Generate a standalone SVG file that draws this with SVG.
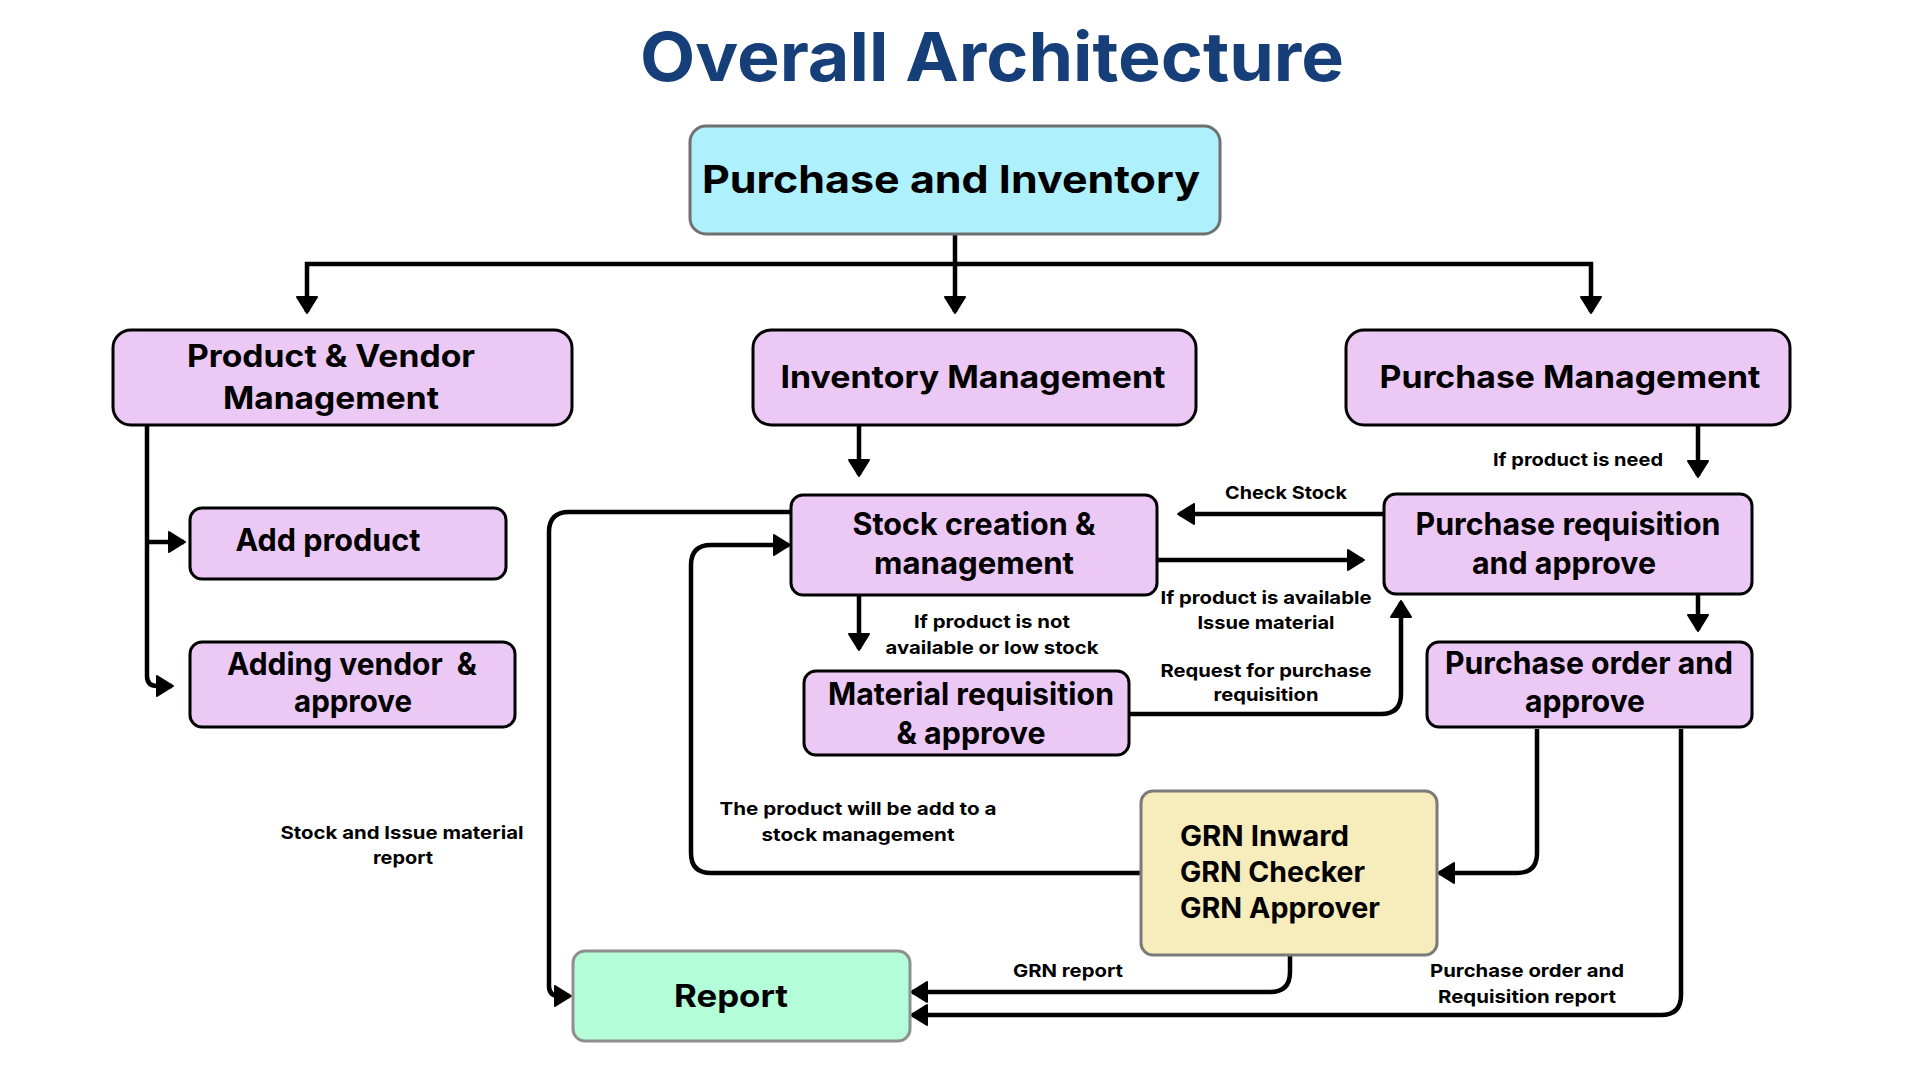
<svg xmlns="http://www.w3.org/2000/svg" width="1920" height="1080" viewBox="0 0 1920 1080">
<style>
text{font-family:Inter,"Open Sans","Liberation Sans",sans-serif;font-weight:700;fill:#000;text-anchor:middle}
.title{font-size:68px;fill:#163e78}
.t1{font-size:38px}
.t2{font-size:31px}
.t3{font-size:28px;text-anchor:start}
.lbl{font-size:18px}
.box{fill:#ebc9f4;stroke:#000;stroke-width:3}
.conn path{fill:none;stroke:#000;stroke-width:4.5;stroke-linejoin:miter}
</style>
<defs>
<marker id="ah" markerUnits="userSpaceOnUse" markerWidth="18" markerHeight="22" viewBox="0 0 18 22" refX="16" refY="11" orient="auto">
<path d="M1,1 L17,11 L1,21 Z" fill="#000" stroke="#000" stroke-width="2" stroke-linejoin="round"/>
</marker>
</defs>
<rect width="1920" height="1080" fill="#fff"/>
<text class="title" x="992" y="81" textLength="704" lengthAdjust="spacingAndGlyphs">Overall Architecture</text>

<g class="conn">
<path d="M955,235 V264 H307 V312" marker-end="url(#ah)"/>
<path d="M955,264 V312" marker-end="url(#ah)"/>
<path d="M955,264 H1591 V312" marker-end="url(#ah)"/>
<path d="M147,425 V676 Q147,686 157,686 H172" marker-end="url(#ah)"/>
<path d="M147,542 H184" marker-end="url(#ah)"/>
<path d="M859,425 V475" marker-end="url(#ah)"/>
<path d="M1698,425 V476" marker-end="url(#ah)"/>
<path d="M1384,514 H1179" marker-end="url(#ah)"/>
<path d="M1157,560 H1363" marker-end="url(#ah)"/>
<path d="M859,595 V649" marker-end="url(#ah)"/>
<path d="M1130,714 H1381 Q1401,714 1401,694 V602" marker-end="url(#ah)"/>
<path d="M1698,594 V630" marker-end="url(#ah)"/>
<path d="M1537,729 V853 Q1537,873 1517,873 H1439" marker-end="url(#ah)"/>
<path d="M1681,729 V995 Q1681,1015 1661,1015 H912" marker-end="url(#ah)"/>
<path d="M1290,955 V972 Q1290,992 1270,992 H912" marker-end="url(#ah)"/>
<path d="M791,512 H569 Q549,512 549,532 V986 Q549,996 559,996 H570" marker-end="url(#ah)"/>
<path d="M1141,873 H711 Q691,873 691,853 V565 Q691,545 711,545 H789" marker-end="url(#ah)"/>
</g>

<g id="labels">
<text class="lbl" x="1578" y="466" textLength="170" lengthAdjust="spacingAndGlyphs">If product is need</text>
<text class="lbl" x="1286" y="499" textLength="122" lengthAdjust="spacingAndGlyphs">Check Stock</text>
<text class="lbl" x="1266" y="604" textLength="211" lengthAdjust="spacingAndGlyphs">If product is available</text>
<text class="lbl" x="1266" y="629" textLength="137" lengthAdjust="spacingAndGlyphs">Issue material</text>
<text class="lbl" x="992" y="628" textLength="156" lengthAdjust="spacingAndGlyphs">If product is not</text>
<text class="lbl" x="992" y="654" textLength="213" lengthAdjust="spacingAndGlyphs">available or low stock</text>
<text class="lbl" x="1266" y="677" textLength="211" lengthAdjust="spacingAndGlyphs">Request for purchase</text>
<text class="lbl" x="1266" y="701" textLength="105" lengthAdjust="spacingAndGlyphs">requisition</text>
<text class="lbl" x="402" y="839" textLength="243" lengthAdjust="spacingAndGlyphs">Stock and Issue material</text>
<text class="lbl" x="403" y="864" textLength="60" lengthAdjust="spacingAndGlyphs">report</text>
<text class="lbl" x="858" y="815" textLength="277" lengthAdjust="spacingAndGlyphs">The product will be add to a</text>
<text class="lbl" x="858" y="841" textLength="193" lengthAdjust="spacingAndGlyphs">stock management</text>
<text class="lbl" x="1068" y="977" textLength="110" lengthAdjust="spacingAndGlyphs">GRN report</text>
<text class="lbl" x="1527" y="977" textLength="194" lengthAdjust="spacingAndGlyphs">Purchase order and</text>
<text class="lbl" x="1527" y="1003" textLength="178" lengthAdjust="spacingAndGlyphs">Requisition report</text>
</g>

<g id="purchase-inventory">
<rect x="690" y="126" width="530" height="108" rx="16" fill="#aef1fd" stroke="#707070" stroke-width="3"/>
<text class="t1" x="951" y="193" textLength="498" lengthAdjust="spacingAndGlyphs">Purchase and Inventory</text>
</g>
<g id="product-vendor">
<rect class="box" x="113" y="330" width="459" height="95" rx="18"/>
<text class="t2" x="331" y="367" textLength="288" lengthAdjust="spacingAndGlyphs">Product &amp; Vendor</text>
<text class="t2" x="331" y="409" textLength="216" lengthAdjust="spacingAndGlyphs">Management</text>
</g>
<g id="inventory-management">
<rect class="box" x="753" y="330" width="443" height="95" rx="18"/>
<text class="t2" x="973" y="388" textLength="385" lengthAdjust="spacingAndGlyphs">Inventory Management</text>
</g>
<g id="purchase-management">
<rect class="box" x="1346" y="330" width="444" height="95" rx="18"/>
<text class="t2" x="1570" y="388" textLength="381" lengthAdjust="spacingAndGlyphs">Purchase Management</text>
</g>
<g id="add-product">
<rect class="box" x="190" y="508" width="316" height="71" rx="12"/>
<text class="t2" x="328" y="551" textLength="185" lengthAdjust="spacingAndGlyphs">Add product</text>
</g>
<g id="adding-vendor">
<rect class="box" x="190" y="642" width="325" height="85" rx="12"/>
<text class="t2" x="352" y="675" textLength="250" lengthAdjust="spacingAndGlyphs" xml:space="preserve">Adding vendor  &amp;</text>
<text class="t2" x="353" y="712" textLength="118" lengthAdjust="spacingAndGlyphs">approve</text>
</g>
<g id="stock-creation">
<rect class="box" x="791" y="495" width="366" height="100" rx="12"/>
<text class="t2" x="974" y="535" textLength="243" lengthAdjust="spacingAndGlyphs">Stock creation &amp;</text>
<text class="t2" x="974" y="574" textLength="200" lengthAdjust="spacingAndGlyphs">management</text>
</g>
<g id="material-requisition">
<rect class="box" x="804" y="671" width="325" height="84" rx="12"/>
<text class="t2" x="971" y="705" textLength="286" lengthAdjust="spacingAndGlyphs">Material requisition</text>
<text class="t2" x="971" y="744" textLength="149" lengthAdjust="spacingAndGlyphs">&amp; approve</text>
</g>
<g id="purchase-requisition">
<rect class="box" x="1384" y="494" width="368" height="100" rx="12"/>
<text class="t2" x="1568" y="535" textLength="305" lengthAdjust="spacingAndGlyphs">Purchase requisition</text>
<text class="t2" x="1564" y="574" textLength="184" lengthAdjust="spacingAndGlyphs">and approve</text>
</g>
<g id="purchase-order">
<rect class="box" x="1427" y="642" width="325" height="85" rx="12"/>
<text class="t2" x="1589" y="674" textLength="288" lengthAdjust="spacingAndGlyphs">Purchase order and</text>
<text class="t2" x="1585" y="712" textLength="120" lengthAdjust="spacingAndGlyphs">approve</text>
</g>
<g id="grn">
<rect x="1141" y="791" width="296" height="164" rx="12" fill="#f7ecbb" stroke="#7a7a7a" stroke-width="3"/>
<text class="t3" x="1180" y="846" textLength="169" lengthAdjust="spacingAndGlyphs">GRN Inward</text>
<text class="t3" x="1180" y="882" textLength="185" lengthAdjust="spacingAndGlyphs">GRN Checker</text>
<text class="t3" x="1180" y="918" textLength="200" lengthAdjust="spacingAndGlyphs">GRN Approver</text>
</g>
<g id="report">
<rect x="573" y="951" width="337" height="90" rx="12" fill="#b3fdd8" stroke="#8f8f8f" stroke-width="3"/>
<text class="t2" x="731" y="1007" textLength="114" lengthAdjust="spacingAndGlyphs">Report</text>
</g>
</svg>
